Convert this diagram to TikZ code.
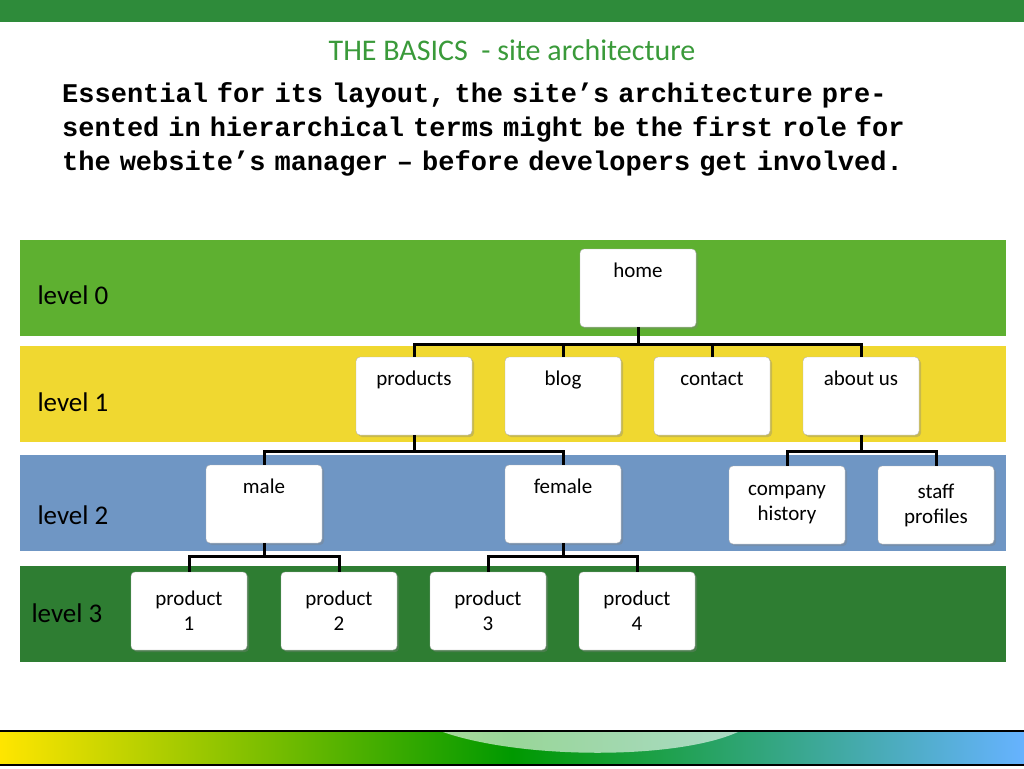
\documentclass[tikz,border=0pt]{standalone}
\usepackage{fontspec}
\setmainfont{Carlito}
\newfontfamily\monofont{Liberation Mono}
\usetikzlibrary{positioning,shadows}
\definecolor{topgreen}{RGB}{46,139,58}
\definecolor{titlegreen}{RGB}{58,154,58}
\definecolor{lvlzero}{RGB}{94,176,48}
\definecolor{lvlone}{RGB}{240,216,48}
\definecolor{lvltwo}{RGB}{111,150,196}
\definecolor{lvlthree}{RGB}{46,125,50}
\begin{document}
\begin{tikzpicture}[x=1pt,y=-1pt,
  page box/.style={draw=gray!60,fill=white,rounded corners=4pt,minimum width=116pt,
    minimum height=78pt,align=center,font=\fontsize{21}{25}\selectfont,
    drop shadow={shadow xshift=2pt,shadow yshift=-2pt,opacity=.35}},
  band/.style={minimum width=986pt,minimum height=96pt,inner sep=0pt,anchor=west},
  level label/.style={font=\fontsize{27}{30}\selectfont,anchor=west},
  link/.style={line width=3pt}]
  \useasboundingbox (0,0) rectangle (1024,768);
  \fill[topgreen] (0,0) rectangle (1024,22);
  \node[font=\fontsize{30}{34}\selectfont,text=titlegreen] (title) at (512,50) {THE BASICS \ - site architecture};
  \node[anchor=north west,inner sep=0pt,text width=900pt,font=\monofont\bfseries\fontsize{27}{34}\selectfont] (intro) at (62,82)
    {Essential for its layout, the site’s architecture presented in hierarchical terms might be the first role for the website’s manager – before developers get involved.};
  % bands
  \node[band,fill=lvlzero] (b0) at (20,288) {};
  \node[band,fill=lvlone] (b1) at (20,394) {};
  \node[band,fill=lvltwo] (b2) at (20,503) {};
  \node[band,fill=lvlthree] (b3) at (20,614) {};
  \node[level label] at (34,295) {level 0};
  \node[level label] at (34,402) {level 1};
  \node[level label] at (34,515) {level 2};
  \node[level label] at (28,613) {level 3};
  % pages
  \node[page box] (home) at (638,288) {home\\[10pt]};
  \node[page box] (products) at (414,396) {products\\[10pt]};
  \node[page box] (blog) at (563,396) {blog\\[10pt]};
  \node[page box] (contact) at (712,396) {contact\\[10pt]};
  \node[page box] (about) at (861,396) {about us\\[10pt]};
  \node[page box] (male) at (264,504) {male\\[10pt]};
  \node[page box] (female) at (563,504) {female\\[10pt]};
  \node[page box] (company) at (787,505) {company\\history};
  \node[page box] (staff) at (936,505) {staff\\profiles};
  \node[page box] (prodA) at (189,611) {product\\1};
  \node[page box] (prodB) at (339,611) {product\\2};
  \node[page box] (prodC) at (488,611) {product\\3};
  \node[page box] (prodD) at (637,611) {product\\4};
  % links
  \foreach \kid in {products,blog,contact,about}
    \draw[link] (home.south) -- ++(0,17) -| (\kid.north);
  \foreach \kid in {male,female}
    \draw[link] (products.south) -- ++(0,16) -| (\kid.north);
  \foreach \kid in {company,staff}
    \draw[link] (about.south) -- ++(0,16) -| (\kid.north);
  \foreach \kid in {prodA,prodB}
    \draw[link] (male.south) -- ++(0,13) -| (\kid.north);
  \foreach \kid in {prodC,prodD}
    \draw[link] (female.south) -- ++(0,13) -| (\kid.north);
  % footer strip
  \shade[left color=yellow!80!orange,right color=cyan!50!blue!60,middle color=green!60!black] (0,731) rectangle (1024,765);
  \fill[white,opacity=.6] (440,731) .. controls (520,760) and (680,760) .. (740,731) -- cycle;
  \draw[line width=2pt] (0,731) -- (1024,731);
  \draw[line width=2pt] (0,765) -- (1024,765);
\end{tikzpicture}
\end{document}
